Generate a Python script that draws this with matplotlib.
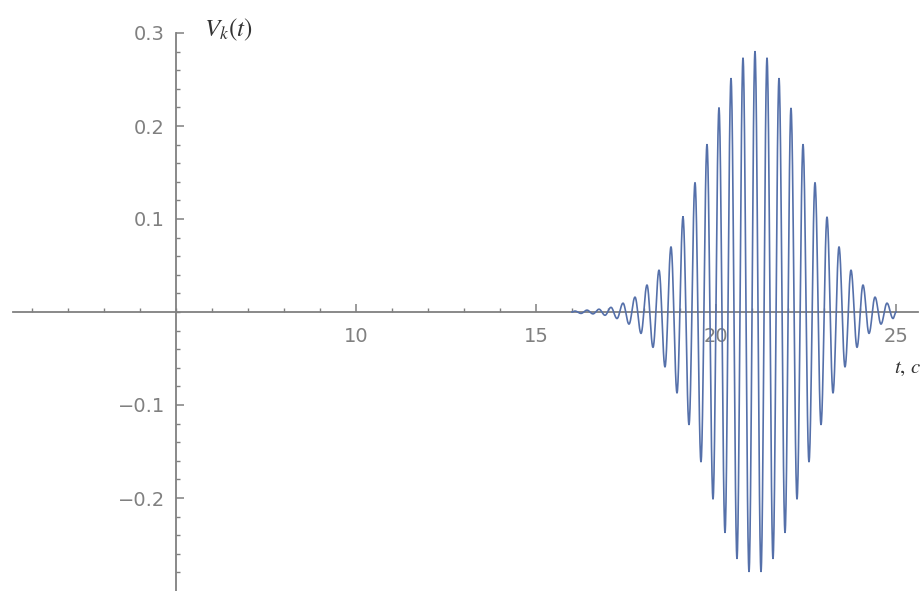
import numpy as np
import matplotlib
matplotlib.use("Agg")
import matplotlib.pyplot as plt
from matplotlib.ticker import FixedLocator

# Extrema of the signal V_k(t): times (s) and values at each crest/trough
peak_times = [16.083, 16.250, 16.417, 16.583, 16.750, 16.917, 17.083, 17.250,
              17.417, 17.583, 17.750, 17.917, 18.083, 18.250, 18.417, 18.583,
              18.750, 18.917, 19.083, 19.250, 19.417, 19.583, 19.750, 19.917,
              20.083, 20.250, 20.417, 20.583, 20.750, 20.917, 21.083, 21.250,
              21.417, 21.583, 21.750, 21.917, 22.083, 22.250, 22.417, 22.583,
              22.750, 22.917, 23.083, 23.250, 23.417, 23.583, 23.750, 23.917,
              24.083, 24.250, 24.417, 24.583, 24.750, 24.917]
peak_values = [0.001, -0.0015, 0.002, -0.002, 0.003, -0.0035, 0.005, -0.007,
               0.0095, -0.013, 0.016, -0.023, 0.029, -0.038, 0.045, -0.059,
               0.070, -0.087, 0.102, -0.121, 0.139, -0.161, 0.180, -0.201,
               0.219, -0.237, 0.251, -0.265, 0.273, -0.279, 0.280, -0.279,
               0.273, -0.265, 0.251, -0.237, 0.219, -0.201, 0.180, -0.161,
               0.139, -0.121, 0.102, -0.087, 0.070, -0.059, 0.045, -0.038,
               0.029, -0.023, 0.016, -0.013, 0.0095, -0.007]
t_start, t_end = 16.0, 25.0

x_major = [10, 15, 20, 25]
x_minor = list(range(1, 26))
y_major = [-0.2, -0.1, 0.1, 0.2, 0.3]
y_minor = [round(v, 2) for v in np.arange(-0.28, 0.301, 0.02)]

# Smooth (half-cosine) joins between consecutive extrema
pts_t = [t_start] + peak_times + [t_end]
pts_v = [0.0] + peak_values + [0.0]
curve_t, curve_v = [], []
s = np.linspace(0, 1, 25)
for (ta, va), (tb, vb) in zip(zip(pts_t[:-1], pts_v[:-1]), zip(pts_t[1:], pts_v[1:])):
    curve_t.extend(ta + (tb - ta) * s)
    curve_v.extend((va + vb) / 2 + (va - vb) / 2 * np.cos(np.pi * s))

fig = plt.figure(figsize=(9.24, 5.91), dpi=100)
ax = fig.add_axes([0, 0, 1, 1])

# Pixel layout: t=5 at x=176 px, 36 px per second; V=0 at y=312 px, 930 px per unit
ax.set_xlim(5 - 176 / 36, 5 + (924 - 176) / 36)
ax.set_ylim((312 - 591) / 930, 312 / 930)

ax.plot(curve_t, curve_v, color="#5570aa", lw=1.2, zorder=3)

axis_col = "#808080"
for side in ("top", "right"):
    ax.spines[side].set_visible(False)
ax.spines["left"].set_position(("data", 5))
ax.spines["bottom"].set_position(("data", 0))
ax.spines["left"].set_bounds(-0.3, 0.3)
ax.spines["bottom"].set_bounds(5 - 163 / 36, 5 + (918 - 176) / 36)
for side in ("left", "bottom"):
    ax.spines[side].set_color(axis_col)
    ax.spines[side].set_linewidth(1.3)
    ax.spines[side].set_zorder(2)

ax.xaxis.set_major_locator(FixedLocator(x_major))
ax.xaxis.set_minor_locator(FixedLocator(x_minor))
ax.yaxis.set_major_locator(FixedLocator(y_major))
ax.yaxis.set_minor_locator(FixedLocator(y_minor))
ax.set_xticklabels([str(v) for v in x_major])
ax.set_yticklabels([f"{v:.1f}".replace("-", "\u2212") for v in y_major])

ax.tick_params(axis="both", which="both", direction="in", color=axis_col,
               labelcolor="#808080", labelsize=14)
ax.tick_params(axis="x", which="major", length=6, width=1.1, pad=11)
ax.tick_params(axis="x", which="minor", length=3, width=1.0)
ax.tick_params(axis="y", which="major", length=6, width=1.1, pad=8)
ax.tick_params(axis="y", which="minor", length=3, width=1.0)

plt.rcParams["mathtext.fontset"] = "stix"
ax.text(5 + (204 - 176) / 36, (312 - 30) / 930, r"$V_k(t)$", fontsize=18,
        color="#333333", ha="left", va="center")
ax.text(5 + (894 - 176) / 36, (312 - 368) / 930, r"$t,\,c$", fontsize=15,
        color="#333333", ha="left", va="center")

fig.savefig("out.png", dpi=100)
